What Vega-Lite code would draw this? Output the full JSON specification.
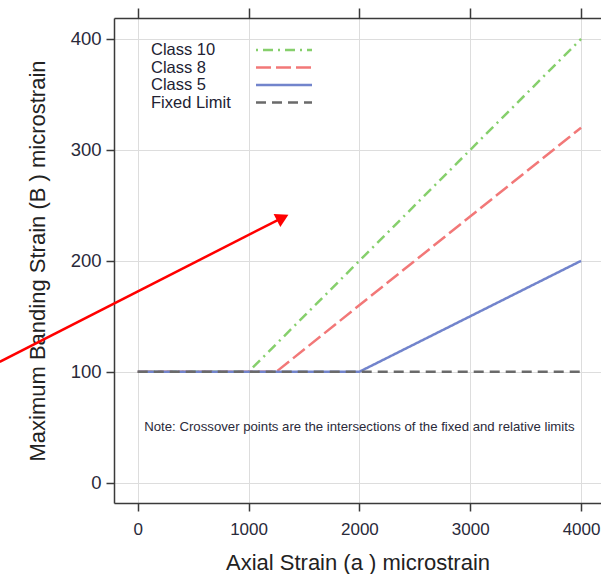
{
  "$schema": "https://vega.github.io/schema/vega-lite/v6.json",
  "width": 487,
  "height": 485,
  "autosize": {"type": "none"},
  "padding": {"left": 114, "top": 18, "right": 0, "bottom": 71},
  "config": {
    "font": "Liberation Sans",
    "view": {"stroke": null},
    "axis": {
      "domainColor": "#3a3a3a",
      "domainWidth": 1.5,
      "tickColor": "#3a3a3a",
      "tickWidth": 1.5,
      "tickSize": 8,
      "labelFontSize": 17,
      "labelColor": "#2a2a3a",
      "labelPadding": 5,
      "titleFontSize": 22,
      "titleFontWeight": "normal",
      "titleColor": "#222222",
      "gridColor": "#dddddd",
      "gridWidth": 1
    },
    "legend": {
      "orient": "none",
      "legendX": 0,
      "legendY": 23.5,
      "padding": 0,
      "rowPadding": 0.5,
      "symbolType": "M-4,0H4",
      "symbolSize": 196,
      "symbolOffset": 161.5,
      "labelOffset": -141.5,
      "labelLimit": 600,
      "labelFontSize": 16.5,
      "labelColor": "#222233"
    }
  },
  "datasets": {
    "classes": [
      {"series": "Class 10", "a": 0, "b": 100},
      {"series": "Class 10", "a": 1000, "b": 100},
      {"series": "Class 10", "a": 4000, "b": 400},
      {"series": "Class 8", "a": 0, "b": 100},
      {"series": "Class 8", "a": 1250, "b": 100},
      {"series": "Class 8", "a": 4000, "b": 320},
      {"series": "Class 5", "a": 0, "b": 100},
      {"series": "Class 5", "a": 2000, "b": 100},
      {"series": "Class 5", "a": 4000, "b": 200}
    ],
    "fixed": [
      {"series": "Fixed Limit", "a": 0, "b": 100},
      {"series": "Fixed Limit", "a": 4000, "b": 100}
    ],
    "note": [
      {"a": 2000, "b": 50, "text": "Note: Crossover points are the intersections of the fixed and relative limits"}
    ],
    "arrow": [
      {"a0": -1245, "b0": 109, "a1": 1308, "b1": 239}
    ]
  },
  "resolve": {"axis": {"x": "independent", "y": "independent"}},
  "layer": [
    {
      "data": {"name": "classes"},
      "mark": {"type": "line", "strokeCap": "butt"},
      "encoding": {
        "x": {
          "field": "a", "type": "quantitative",
          "scale": {"domain": [-214, 4180], "nice": false, "zero": false},
          "axis": {"orient": "bottom", "values": [0, 1000, 2000, 3000, 4000], "title": "Axial Strain (a ) microstrain", "labelPadding": 10, "titlePadding": 15, "grid": true, "format": "d"}
        },
        "y": {
          "field": "b", "type": "quantitative",
          "scale": {"domain": [-18.3, 418.9], "nice": false, "zero": false},
          "axis": {"orient": "left", "values": [0, 100, 200, 300, 400], "title": "Maximum Banding Strain (B ) microstrain", "labelFontSize": 18.5, "titlePadding": 21, "grid": true}
        },
        "color": {
          "field": "series", "type": "nominal",
          "scale": {"domain": ["Class 10", "Class 8", "Class 5", "Fixed Limit"], "range": ["#86cf6c", "#f27878", "#7284cc", "#6a6a6a"]},
          "legend": {"title": null}
        },
        "strokeDash": {
          "field": "series", "type": "nominal",
          "scale": {"domain": ["Class 10", "Class 8", "Class 5", "Fixed Limit"], "range": [[2, 5, 10, 5], [15, 5], [1, 0], [10, 6]]},
          "legend": {"title": null}
        },
        "strokeWidth": {
          "field": "series", "type": "nominal",
          "scale": {"domain": ["Class 10", "Class 8", "Class 5", "Fixed Limit"], "range": [2.5, 2.5, 2.5, 3.5]},
          "legend": {"title": null}
        }
      }
    },
    {
      "data": {"name": "fixed"},
      "mark": {"type": "line", "strokeCap": "butt"},
      "encoding": {
        "x": {"field": "a", "type": "quantitative", "axis": null},
        "y": {"field": "b", "type": "quantitative", "axis": null},
        "color": {"field": "series", "type": "nominal", "legend": {"title": null}},
        "strokeDash": {"field": "series", "type": "nominal", "legend": {"title": null}},
        "strokeWidth": {"field": "series", "type": "nominal", "legend": {"title": null}}
      }
    },
    {
      "data": {"name": "note"},
      "mark": {"type": "text", "fontSize": 13.2, "color": "#2a2a3a", "align": "center", "baseline": "middle"},
      "encoding": {
        "x": {
          "field": "a", "type": "quantitative",
          "axis": {"orient": "top", "values": [0, 1000, 2000, 3000, 4000], "labels": false, "title": null, "grid": false, "tickSize": 10}
        },
        "y": {"field": "b", "type": "quantitative", "axis": null},
        "text": {"field": "text"}
      }
    },
    {
      "data": {"name": "arrow"},
      "mark": {"type": "rule", "color": "#ff0000", "strokeWidth": 2.5},
      "encoding": {
        "x": {"field": "a0", "type": "quantitative", "axis": null},
        "y": {"field": "b0", "type": "quantitative", "axis": null},
        "x2": {"field": "a1"},
        "y2": {"field": "b1"}
      }
    },
    {
      "data": {"name": "arrow"},
      "mark": {"type": "point", "shape": "triangle-up", "filled": true, "color": "#ff0000", "opacity": 1, "size": 220, "angle": 63},
      "encoding": {
        "x": {"field": "a1", "type": "quantitative", "axis": null},
        "y": {"field": "b1", "type": "quantitative", "axis": null}
      }
    }
  ]
}
